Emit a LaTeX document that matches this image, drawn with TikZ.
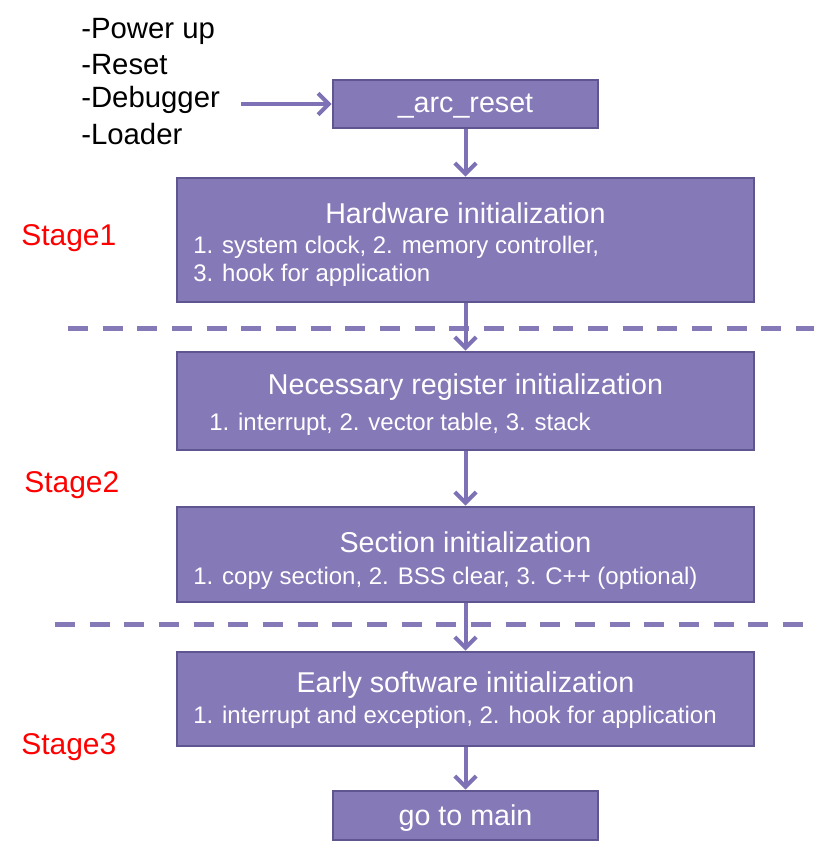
\documentclass[tikz,border=0pt]{standalone}
\usepackage{fontspec}
\setmainfont{Liberation Sans}
\usetikzlibrary{arrows.meta}

\definecolor{boxfill}{HTML}{8679B8}
\definecolor{boxline}{HTML}{5F5590}
\definecolor{flow}{HTML}{7F71B5}

\tikzset{
  initbox/.style={draw=boxline,line width=2.2pt,fill=boxfill,inner sep=0pt},
  flowarrow/.style={flow,line width=3pt,-{Straight Barb[length=8pt,width=16pt]}},
  stageline/.style={boxfill,line width=3.75pt,dash pattern=on 15pt off 11pt},
  title/.style={text=white,font=\fontsize{21.5}{24}\selectfont},
  detail/.style={text=white,font=\fontsize{18}{20}\selectfont,anchor=west,inner sep=0pt},
  stage/.style={text=red,font=\fontsize{22.5}{24}\selectfont,anchor=west,inner sep=0pt},
  source/.style={font=\fontsize{22}{24}\selectfont,anchor=west,inner sep=0pt}
}

\begin{document}
\begin{tikzpicture}[x=0.75pt,y=-0.75pt]
	\useasboundingbox (0,0) rectangle (814,851) ;
	% sources of a reset
	\node[source] (pwr) at (81,31) {-Power up} ;
	\node[source] (rst) at (81,65) {-Reset} ;
	\node[source] (dbg) at (81,100) {-Debugger} ;
	\node[source] (ldr) at (81,134) {-Loader} ;
	\coordinate (dbgend) at (241,104) ;
	% boxes
	\node[initbox,minimum width=198.75pt,minimum height=36pt] (reset) at (465.5,104) {} ;
	\node[title] at (465.5,106) {\_arc\_reset} ;
	\node[initbox,minimum width=432.75pt,minimum height=93pt] (hw) at (465.5,240) {} ;
	\node[title] (hwt) at (465.5,213) {Hardware initialization} ;
	\node[detail] (hwa) at (193,247) {1. system clock, 2. memory controller,} ;
	\node[detail] (hwb) at (193,275) {3. hook for application} ;
	\node[initbox,minimum width=432.75pt,minimum height=73.5pt] (reg) at (465.5,401) {} ;
	\node[title] (regt) at (465.5,387) {Necessary register initialization} ;
	\node[detail] (rega) at (209,424) {1. interrupt, 2. vector table, 3. stack} ;
	\node[initbox,minimum width=432.75pt,minimum height=71.25pt] (sec) at (465.5,554.5) {} ;
	\node[title] (sect) at (465.5,542) {Section initialization} ;
	\node[detail] (seca) at (193,578) {1. copy section, 2. BSS clear, 3. C++ (optional)} ;
	\node[initbox,minimum width=432.75pt,minimum height=70.5pt] (early) at (465.5,699) {} ;
	\node[title] (earlyt) at (465.5,685) {Early software initialization} ;
	\node[detail] (earlya) at (193,717) {1. interrupt and exception, 2. hook for application} ;
	\node[initbox,minimum width=198.75pt,minimum height=36.75pt] (main) at (465.5,815.5) {} ;
	\node[title] at (465.5,818) {go to main} ;
	% stages
	\node[stage] (st1) at (21,238) {Stage1} ;
	\node[stage] (st2) at (24,485) {Stage2} ;
	\node[stage] (st3) at (21,747) {Stage3} ;
	\draw[stageline] (68,328) -- (814,328) ;
	\draw[stageline] (55,624) -- (805,624) ;
	% flow
	\draw[flowarrow] (dbgend) -- (reset.west) ;
	\draw[flowarrow] (reset.south) -- (hw.north) ;
	\draw[flowarrow] (hw.south) -- (reg.north) ;
	\draw[flowarrow] (reg.south) -- (sec.north) ;
	\draw[flowarrow] (sec.south) -- (early.north) ;
	\draw[flowarrow] (early.south) -- (main.north) ;
\end{tikzpicture}
\end{document}
